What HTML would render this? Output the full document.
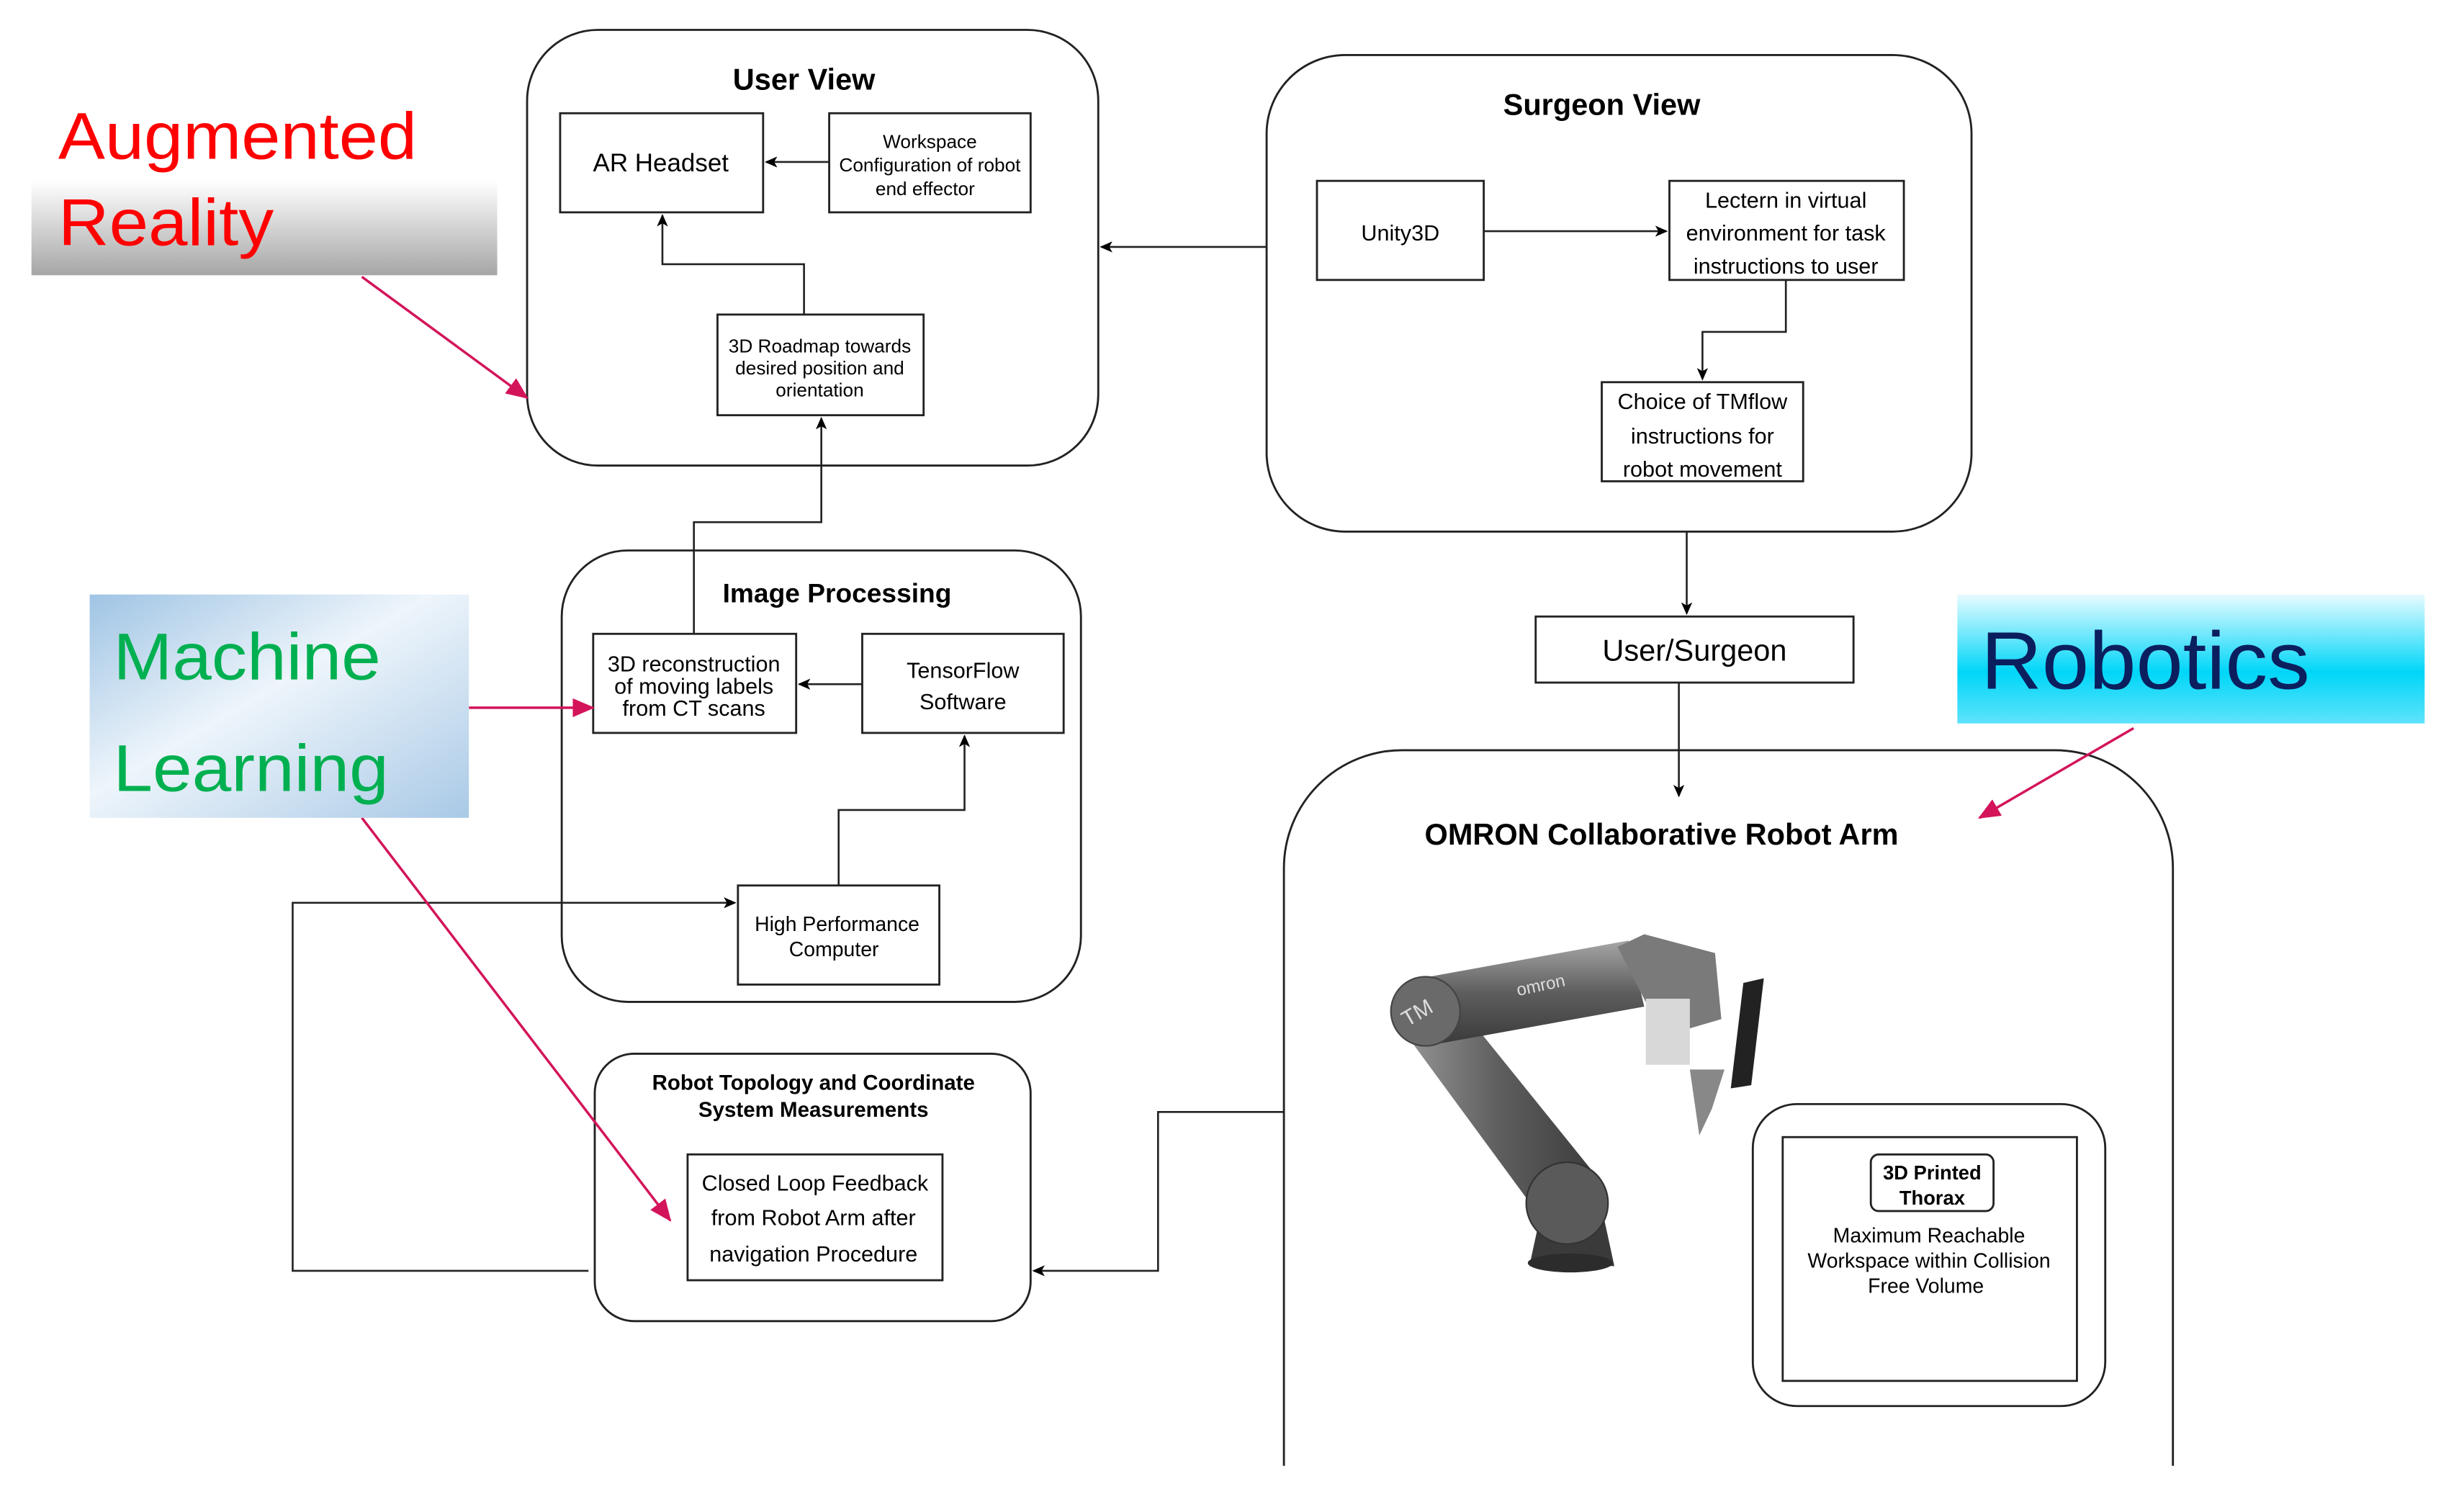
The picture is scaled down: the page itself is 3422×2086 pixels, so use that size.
<!DOCTYPE html>
<html><head><meta charset="utf-8"><style>
html,body{margin:0;padding:0;background:#fff;width:3422px;height:2086px;overflow:hidden;}
svg{display:block;}
text{font-family:"Liberation Sans",sans-serif;}
</style></head><body>
<svg width="3422" height="2086" viewBox="0 0 1566 955" preserveAspectRatio="none" xmlns="http://www.w3.org/2000/svg">
<defs>
<marker id="a" markerWidth="8" markerHeight="8" refX="7" refY="4" orient="auto" markerUnits="userSpaceOnUse"><path d="M0,0.5 L8,4 L0,7.5 L2,4z" fill="#000"/></marker>
<marker id="r" markerWidth="14" markerHeight="14" refX="13" refY="7" orient="auto" markerUnits="userSpaceOnUse"><path d="M0,1 L14,7 L0,13z" fill="#d3145a"/></marker>
<linearGradient id="gAR" x1="0" y1="0" x2="0" y2="1"><stop offset="0" stop-color="#fff"/><stop offset="1" stop-color="#a6a6a6"/></linearGradient>
<linearGradient id="gML" x1="0" y1="0" x2="1" y2="1"><stop offset="0" stop-color="#9fc4e4"/><stop offset="0.45" stop-color="#eef5fb"/><stop offset="1" stop-color="#a9c9e6"/></linearGradient>
<linearGradient id="gRB" x1="0" y1="0" x2="0" y2="1"><stop offset="0" stop-color="#e8fbff"/><stop offset="0.6" stop-color="#00d6f8"/><stop offset="1" stop-color="#5fe3fb"/></linearGradient>
<linearGradient id="arm" x1="0" y1="0" x2="0" y2="1"><stop offset="0" stop-color="#a6a6a6"/><stop offset="0.5" stop-color="#5e5e5e"/><stop offset="1" stop-color="#3a3a3a"/></linearGradient>
<linearGradient id="arm2" x1="0" y1="0" x2="1" y2="0"><stop offset="0" stop-color="#9a9a9a"/><stop offset="0.5" stop-color="#5e5e5e"/><stop offset="1" stop-color="#3a3a3a"/></linearGradient>
</defs>
<g fill="none" stroke="#222" stroke-width="1.3">
<rect x="335" y="19" width="363" height="277" rx="45"/>
<rect x="356" y="72" width="129" height="63"/>
<rect x="527" y="72" width="128" height="63"/>
<rect x="456" y="200" width="131" height="64"/>
<rect x="805" y="35" width="448" height="303" rx="50"/>
<rect x="837" y="115" width="106" height="63"/>
<rect x="1061" y="115" width="149" height="63"/>
<rect x="1018" y="243" width="128" height="63"/>
<rect x="357" y="350" width="330" height="287" rx="42"/>
<rect x="377" y="403" width="129" height="63"/>
<rect x="548" y="403" width="128" height="63"/>
<rect x="469" y="563" width="128" height="63"/>
<rect x="378" y="670" width="277" height="170" rx="25"/>
<rect x="437" y="734" width="162" height="80"/>
<rect x="976" y="392" width="202" height="42"/>
<path d="M816,932 V552 A75,75 0 0 1 891,477 H1306 A75,75 0 0 1 1381,552 V932"/>
<rect x="1114" y="702" width="224" height="192" rx="28"/>
<rect x="1133" y="723" width="187" height="155"/>
<rect x="1189" y="734" width="78" height="36" rx="5"/>
</g>
<g fill="none" stroke="#222" stroke-width="1.2" marker-end="url(#a)">
<path d="M527,103 H487"/>
<path d="M511,200 V168 H421 V137"/>
<path d="M805,157 H700"/>
<path d="M943,147 H1059"/>
<path d="M1135,178 V211 H1082 V241"/>
<path d="M1072,338 V390"/>
<path d="M1067,434 V506"/>
<path d="M441,403 V332 H522 V266"/>
<path d="M548,435 H508"/>
<path d="M533,563 V515 H613 V468"/>
<path d="M374,808 H186 V574 H467"/>
<path d="M816,707 H736 V808 H657"/>
</g>
<g stroke="#d3145a" stroke-width="1.6" fill="none" marker-end="url(#r)">
<path d="M230,176 L335,253"/>
<path d="M298,450 L377,450"/>
<path d="M230,520 L426,776"/>
<path d="M1356,463 L1258,520"/>
</g>
<rect x="20" y="115" width="296" height="60" fill="url(#gAR)"/>
<text x="37" y="101" font-size="42" fill="#f00" textLength="228" lengthAdjust="spacingAndGlyphs">Augmented</text>
<text x="37" y="156" font-size="42" fill="#f00" textLength="137" lengthAdjust="spacingAndGlyphs">Reality</text>
<rect x="57" y="378" width="241" height="142" fill="url(#gML)"/>
<text x="72" y="432" font-size="42" fill="#00b050" textLength="170" lengthAdjust="spacingAndGlyphs">Machine</text>
<text x="72" y="503" font-size="42" fill="#00b050" textLength="175" lengthAdjust="spacingAndGlyphs">Learning</text>
<rect x="1244" y="378" width="297" height="82" fill="url(#gRB)"/>
<text x="1259" y="438" font-size="52" fill="#0b1f5e" textLength="209" lengthAdjust="spacingAndGlyphs">Robotics</text>
<g fill="#000" text-anchor="middle">
<text x="511" y="57" font-size="19" font-weight="bold">User View</text>
<text x="420" y="109" font-size="16">AR Headset</text>
<text x="591" y="94" font-size="12">Workspace</text>
<text x="591" y="109" font-size="12">Configuration of robot</text>
<text x="588" y="124" font-size="12">end effector</text>
<text x="521" y="224" font-size="12">3D Roadmap towards</text>
<text x="521" y="238" font-size="12">desired position and</text>
<text x="521" y="252" font-size="12">orientation</text>
<text x="1018" y="73" font-size="19" font-weight="bold">Surgeon View</text>
<text x="890" y="153" font-size="14">Unity3D</text>
<text x="1135" y="132" font-size="14">Lectern in virtual</text>
<text x="1135" y="153" font-size="14">environment for task</text>
<text x="1135" y="174" font-size="14">instructions to user</text>
<text x="1082" y="260" font-size="14">Choice of TMflow</text>
<text x="1082" y="282" font-size="14">instructions for</text>
<text x="1082" y="303" font-size="14">robot movement</text>
<text x="532" y="383" font-size="17" font-weight="bold">Image Processing</text>
<text x="441" y="427" font-size="14">3D reconstruction</text>
<text x="441" y="441" font-size="14">of moving labels</text>
<text x="441" y="455" font-size="14">from CT scans</text>
<text x="612" y="431" font-size="14">TensorFlow</text>
<text x="612" y="451" font-size="14">Software</text>
<text x="532" y="592" font-size="13">High Performance</text>
<text x="530" y="608" font-size="13">Computer</text>
<text x="517" y="693" font-size="13.5" font-weight="bold">Robot Topology and Coordinate</text>
<text x="517" y="710" font-size="13.5" font-weight="bold">System Measurements</text>
<text x="518" y="757" font-size="14">Closed Loop Feedback</text>
<text x="517" y="779" font-size="14">from Robot Arm after</text>
<text x="517" y="802" font-size="14">navigation Procedure</text>
<text x="1077" y="420" font-size="19">User/Surgeon</text>
<text x="1056" y="537" font-size="19" font-weight="bold">OMRON Collaborative Robot Arm</text>
<text x="1228" y="750" font-size="12.5" font-weight="bold">3D Printed</text>
<text x="1228" y="766" font-size="12.5" font-weight="bold">Thorax</text>
<text x="1226" y="790" font-size="13">Maximum Reachable</text>
<text x="1226" y="806" font-size="13">Workspace within Collision</text>
<text x="1224" y="822" font-size="13">Free Volume</text>
</g>
<g>
<path d="M972,805 L980,768 L1018,768 L1026,805 Z" fill="#3a3a3a"/>
<ellipse cx="998" cy="803" rx="27" ry="6" fill="#2c2c2c"/>
<path d="M888,650 L918,628 L1018,752 L982,778 Z" fill="url(#arm2)"/>
<circle cx="996" cy="765" r="26" fill="#5a5a5a" stroke="#333"/>
<path d="M903,622 L1035,598 L1045,640 L912,664 Z" fill="url(#arm)"/>
<circle cx="906" cy="643" r="22" fill="#6a6a6a" stroke="#444"/>
<text x="903" y="648" font-size="14" fill="#ddd" text-anchor="middle" transform="rotate(-30 903 648)">TM</text>
<text x="980" y="630" font-size="11" fill="#ddd" text-anchor="middle" transform="rotate(-12 980 630)">omron</text>
<path d="M1028,602 L1045,594 L1090,606 L1094,648 L1070,655 L1050,645 Z" fill="#7a7a7a"/>
<rect x="1046" y="635" width="28" height="42" fill="#d8d8d8"/>
<path d="M1108,625 L1121,622 L1113,690 L1100,692 Z" fill="#222"/>
<path d="M1074,680 L1096,680 L1088,705 L1080,722 Z" fill="#888"/>
</g>
</svg>
</body></html>
